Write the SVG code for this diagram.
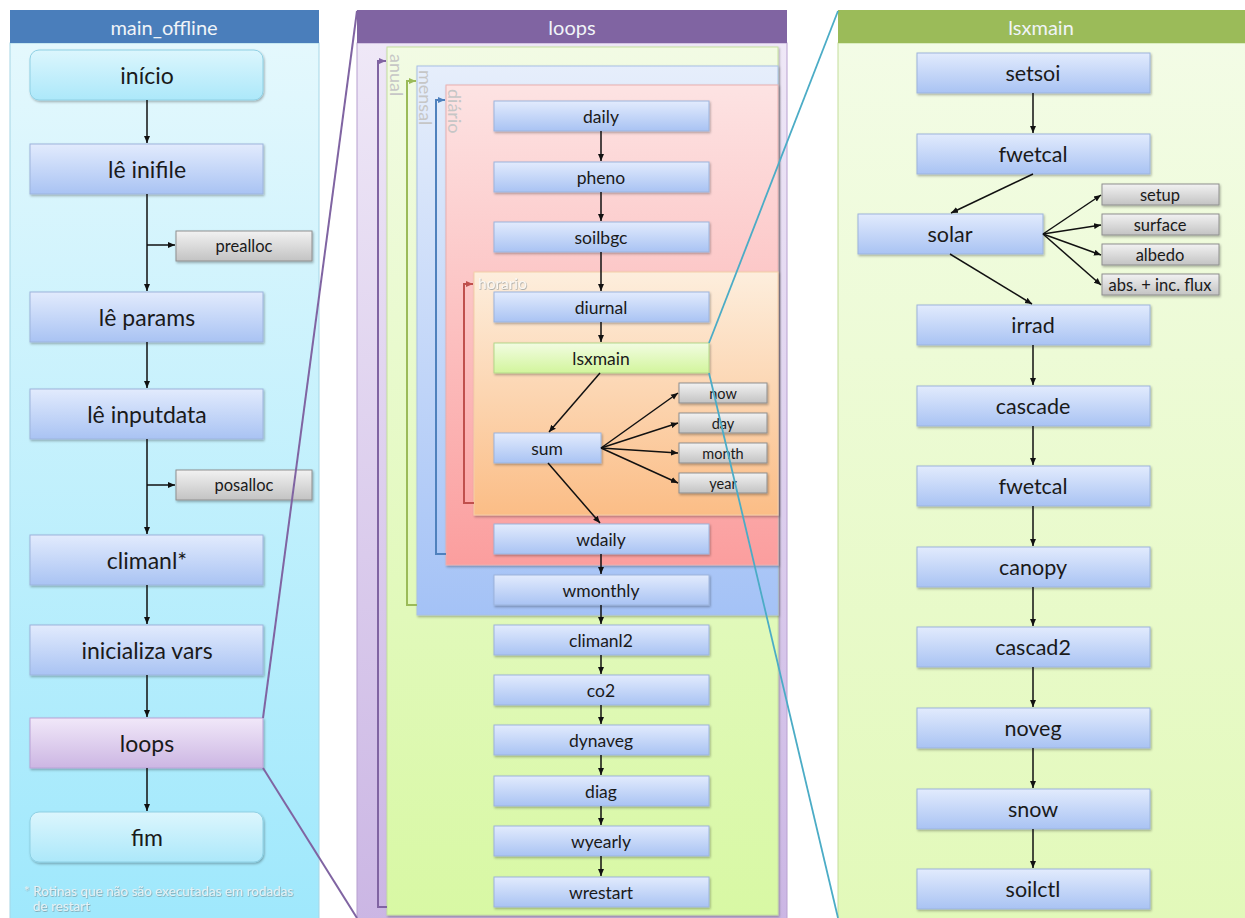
<svg xmlns="http://www.w3.org/2000/svg" width="1245" height="918" viewBox="0 0 1245 918">
<defs>
<linearGradient id="gLeftBody" x1="0" y1="0" x2="0" y2="1"><stop offset="0" stop-color="#e4f8fd"/><stop offset="1" stop-color="#9fe8fc"/></linearGradient>
<linearGradient id="gMidBody" x1="0" y1="0" x2="0" y2="1"><stop offset="0" stop-color="#efe8f7"/><stop offset="1" stop-color="#cbb6e4"/></linearGradient>
<linearGradient id="gRightBody" x1="0" y1="0" x2="0" y2="1"><stop offset="0" stop-color="#f3fce6"/><stop offset="1" stop-color="#e2f9b9"/></linearGradient>
<linearGradient id="gAnual" x1="0" y1="0" x2="0" y2="1"><stop offset="0" stop-color="#f2fbe4"/><stop offset="1" stop-color="#d8f8a4"/></linearGradient>
<linearGradient id="gMensal" x1="0" y1="0" x2="0" y2="1"><stop offset="0" stop-color="#e6eefb"/><stop offset="1" stop-color="#a4c2f6"/></linearGradient>
<linearGradient id="gDiario" x1="0" y1="0" x2="0" y2="1"><stop offset="0" stop-color="#fde3e3"/><stop offset="1" stop-color="#fb9e9e"/></linearGradient>
<linearGradient id="gHorario" x1="0" y1="0" x2="0" y2="1"><stop offset="0" stop-color="#fdeedd"/><stop offset="1" stop-color="#fbbd86"/></linearGradient>
<linearGradient id="gBlue" x1="0" y1="0" x2="0" y2="1"><stop offset="0" stop-color="#e2ebfd"/><stop offset="1" stop-color="#a9c3f3"/></linearGradient>
<linearGradient id="gCyan" x1="0" y1="0" x2="0" y2="1"><stop offset="0" stop-color="#dcf6fd"/><stop offset="1" stop-color="#ace8fa"/></linearGradient>
<linearGradient id="gGray" x1="0" y1="0" x2="0" y2="1"><stop offset="0" stop-color="#f2f2f2"/><stop offset="1" stop-color="#c3c3c3"/></linearGradient>
<linearGradient id="gGreen" x1="0" y1="0" x2="0" y2="1"><stop offset="0" stop-color="#f2fce2"/><stop offset="1" stop-color="#d2f59c"/></linearGradient>
<linearGradient id="gPurple" x1="0" y1="0" x2="0" y2="1"><stop offset="0" stop-color="#f1e8f9"/><stop offset="1" stop-color="#ccb6e3"/></linearGradient>
<filter id="sh" x="-10%" y="-20%" width="120%" height="150%"><feDropShadow dx="1" dy="1.5" stdDeviation="1" flood-color="#000" flood-opacity="0.3"/></filter>
<filter id="tsh" x="-5%" y="-30%" width="110%" height="160%"><feDropShadow dx="0.6" dy="0.8" stdDeviation="0.5" flood-color="#6f7f86" flood-opacity="0.7"/></filter>
<marker id="ah" markerUnits="userSpaceOnUse" markerWidth="8" markerHeight="8" refX="7" refY="4" orient="auto"><path d="M0,1 L7,4 L0,7 z" fill="#111"/></marker>
<marker id="ahP" markerUnits="userSpaceOnUse" markerWidth="8" markerHeight="8" refX="7" refY="4" orient="auto"><path d="M0,1 L7,4 L0,7 z" fill="#8064a2"/></marker>
<marker id="ahG" markerUnits="userSpaceOnUse" markerWidth="8" markerHeight="8" refX="7" refY="4" orient="auto"><path d="M0,1 L7,4 L0,7 z" fill="#9bbb59"/></marker>
<marker id="ahB" markerUnits="userSpaceOnUse" markerWidth="8" markerHeight="8" refX="7" refY="4" orient="auto"><path d="M0,1 L7,4 L0,7 z" fill="#4f81bd"/></marker>
<marker id="ahR" markerUnits="userSpaceOnUse" markerWidth="8" markerHeight="8" refX="7" refY="4" orient="auto"><path d="M0,1 L7,4 L0,7 z" fill="#c0504d"/></marker>
<style>
text{font-family:"Lato","Open Sans","Liberation Sans",sans-serif;}
.hdr{font-size:20px;fill:#f0f4f8;text-anchor:middle;dominant-baseline:central;}
.nb{fill:url(#gBlue);stroke:#9db4dc;stroke-width:1;filter:url(#sh);}
.nc{fill:url(#gCyan);stroke:#8fd0e4;stroke-width:1;filter:url(#sh);}
.ng{fill:url(#gGray);stroke:#8f8f8f;stroke-width:1;filter:url(#sh);}
.ngr{fill:url(#gGreen);stroke:#b4d88a;stroke-width:1;filter:url(#sh);}
.np{fill:url(#gPurple);stroke:#b9a2d6;stroke-width:1;filter:url(#sh);}
.tL{font-size:23px;fill:#1a1a1a;text-anchor:middle;dominant-baseline:central;}
.tM{font-size:17.5px;fill:#1a1a1a;text-anchor:middle;dominant-baseline:central;}
.tS{font-size:14.5px;fill:#1a1a1a;text-anchor:middle;dominant-baseline:central;}
.tR{font-size:21.5px;fill:#1a1a1a;text-anchor:middle;dominant-baseline:central;}
.tRs{font-size:16.5px;fill:#1a1a1a;text-anchor:middle;dominant-baseline:central;}
.ln{stroke:#111;stroke-width:1.5;fill:none;}
.lab{font-size:18px;fill:#c6c6c6;}
</style>
</defs>

<!-- Panels -->
<g id="panel-main_offline">
<rect x="10" y="43" width="309" height="880" fill="url(#gLeftBody)" stroke="#a6d6e6" stroke-width="1"/>
<rect x="10" y="10" width="309" height="33" fill="#4a7ebb"/>
<text class="hdr" x="164" y="27">main_offline</text>
<text x="24" y="896" font-size="13.5" fill="#e6f1f4" filter="url(#tsh)">* Rotinas que não são executadas em rodadas</text>
<text x="33" y="911" font-size="13.5" fill="#e6f1f4" filter="url(#tsh)">de restart</text>
</g>
<g id="panel-loops">
<rect x="357" y="43" width="430" height="880" fill="url(#gMidBody)" stroke="#b8a0d0" stroke-width="1"/>
<rect x="357" y="10" width="430" height="33" fill="#8064a2"/>
<text class="hdr" x="572" y="27">loops</text>
</g>
<g id="panel-lsxmain">
<rect x="838" y="43" width="410" height="880" fill="url(#gRightBody)" stroke="#c4de9c" stroke-width="1"/>
<rect x="838" y="10" width="410" height="33" fill="#9bbb59"/>
<text class="hdr" x="1041" y="27">lsxmain</text>
</g>

<!-- loop regions -->
<g id="region-anual">
<rect x="387" y="47" width="391" height="868" fill="url(#gAnual)" stroke="#c6e0a0" stroke-width="1" filter="url(#sh)"/>
<text class="lab" transform="translate(390,54) rotate(90)">anual</text>
</g>
<g id="region-mensal">
<rect x="417" y="66" width="361" height="549" fill="url(#gMensal)" stroke="#a8bfe6" stroke-width="1" filter="url(#sh)"/>
<text class="lab" transform="translate(419,70) rotate(90)">mensal</text>
</g>
<g id="region-diario">
<rect x="446" y="85" width="332" height="480" fill="url(#gDiario)" stroke="#eab0b0" stroke-width="1" filter="url(#sh)"/>
<text class="lab" transform="translate(448,89) rotate(90)" fill="#d2c6c6">diário</text>
</g>
<g id="region-horario">
<rect x="474" y="272" width="304" height="243" fill="url(#gHorario)" stroke="#f3cfa8" stroke-width="1" filter="url(#sh)"/>
<text x="478" y="289" font-size="15.5" fill="#fbf8f4" filter="url(#tsh)">horario</text>
</g>

<!-- Left nodes -->
<g id="n-inicio"><rect class="nc" x="30" y="50" width="233" height="50" rx="9"/><text class="tL" x="147" y="75">início</text></g>
<g id="n-leinifile"><rect class="nb" x="30" y="144" width="233" height="50"/><text class="tL" x="147" y="169">lê inifile</text></g>
<g id="n-prealloc"><rect class="ng" x="176" y="231" width="136" height="30"/><text class="tRs" x="244" y="246">prealloc</text></g>
<g id="n-leparams"><rect class="nb" x="30" y="292" width="233" height="50"/><text class="tL" x="147" y="317">lê params</text></g>
<g id="n-leinputdata"><rect class="nb" x="30" y="389" width="233" height="50"/><text class="tL" x="147" y="414">lê inputdata</text></g>
<g id="n-posalloc"><rect class="ng" x="176" y="470" width="136" height="30"/><text class="tRs" x="244" y="485">posalloc</text></g>
<g id="n-climanl"><rect class="nb" x="30" y="535" width="233" height="50"/><text class="tL" x="147" y="560">climanl*</text></g>
<g id="n-inicializa"><rect class="nb" x="30" y="625" width="233" height="50"/><text class="tL" x="147" y="650">inicializa vars</text></g>
<g id="n-loops"><rect class="np" x="30" y="718" width="233" height="50"/><text class="tL" x="147" y="743">loops</text></g>
<g id="n-fim"><rect class="nc" x="30" y="812" width="233" height="50" rx="9"/><text class="tL" x="147" y="837">fim</text></g>

<!-- Middle nodes -->
<g id="m-daily"><rect class="nb" x="494" y="101" width="215" height="30"/><text class="tM" x="601" y="116">daily</text></g>
<g id="m-pheno"><rect class="nb" x="494" y="162" width="215" height="30"/><text class="tM" x="601" y="177">pheno</text></g>
<g id="m-soilbgc"><rect class="nb" x="494" y="222" width="215" height="30"/><text class="tM" x="601" y="237">soilbgc</text></g>
<g id="m-diurnal"><rect class="nb" x="494" y="292" width="215" height="30"/><text class="tM" x="601" y="307">diurnal</text></g>
<g id="m-lsxmain"><rect class="ngr" x="494" y="343" width="215" height="30"/><text class="tM" x="601" y="358">lsxmain</text></g>
<g id="m-sum"><rect class="nb" x="494" y="433" width="107" height="30"/><text class="tM" x="547" y="448">sum</text></g>
<g id="m-now"><rect class="ng" x="679" y="383" width="88" height="20"/><text class="tS" x="723" y="393">now</text></g>
<g id="m-day"><rect class="ng" x="679" y="413" width="88" height="20"/><text class="tS" x="723" y="423">day</text></g>
<g id="m-month"><rect class="ng" x="679" y="443" width="88" height="20"/><text class="tS" x="723" y="453">month</text></g>
<g id="m-year"><rect class="ng" x="679" y="473" width="88" height="20"/><text class="tS" x="723" y="483">year</text></g>
<g id="m-wdaily"><rect class="nb" x="494" y="524" width="215" height="30"/><text class="tM" x="601" y="539">wdaily</text></g>
<g id="m-wmonthly"><rect class="nb" x="494" y="575" width="215" height="30"/><text class="tM" x="601" y="590">wmonthly</text></g>
<g id="m-climanl2"><rect class="nb" x="494" y="625" width="215" height="30"/><text class="tM" x="601" y="640">climanl2</text></g>
<g id="m-co2"><rect class="nb" x="494" y="675" width="215" height="30"/><text class="tM" x="601" y="690">co2</text></g>
<g id="m-dynaveg"><rect class="nb" x="494" y="725" width="215" height="30"/><text class="tM" x="601" y="740">dynaveg</text></g>
<g id="m-diag"><rect class="nb" x="494" y="776" width="215" height="30"/><text class="tM" x="601" y="791">diag</text></g>
<g id="m-wyearly"><rect class="nb" x="494" y="826" width="215" height="30"/><text class="tM" x="601" y="841">wyearly</text></g>
<g id="m-wrestart"><rect class="nb" x="494" y="877" width="215" height="30"/><text class="tM" x="601" y="892">wrestart</text></g>

<!-- Right nodes -->
<g id="r-setsoi"><rect class="nb" x="917" y="53" width="233" height="40"/><text class="tR" x="1033" y="73">setsoi</text></g>
<g id="r-fwetcal1"><rect class="nb" x="917" y="134" width="233" height="40"/><text class="tR" x="1033" y="154">fwetcal</text></g>
<g id="r-solar"><rect class="nb" x="858" y="214" width="185" height="40"/><text class="tR" x="950" y="234">solar</text></g>
<g id="r-setup"><rect class="ng" x="1102" y="184" width="117" height="21"/><text class="tRs" x="1160" y="194.5">setup</text></g>
<g id="r-surface"><rect class="ng" x="1102" y="214" width="117" height="21"/><text class="tRs" x="1160" y="224.5">surface</text></g>
<g id="r-albedo"><rect class="ng" x="1102" y="244" width="117" height="21"/><text class="tRs" x="1160" y="254.5">albedo</text></g>
<g id="r-absinc"><rect class="ng" x="1102" y="274" width="117" height="21"/><text class="tRs" x="1160" y="284.5">abs. + inc. flux</text></g>
<g id="r-irrad"><rect class="nb" x="917" y="305" width="233" height="40"/><text class="tR" x="1033" y="325">irrad</text></g>
<g id="r-cascade"><rect class="nb" x="917" y="386" width="233" height="40"/><text class="tR" x="1033" y="406">cascade</text></g>
<g id="r-fwetcal2"><rect class="nb" x="917" y="466" width="233" height="40"/><text class="tR" x="1033" y="486">fwetcal</text></g>
<g id="r-canopy"><rect class="nb" x="917" y="547" width="233" height="40"/><text class="tR" x="1033" y="567">canopy</text></g>
<g id="r-cascad2"><rect class="nb" x="917" y="627" width="233" height="40"/><text class="tR" x="1033" y="647">cascad2</text></g>
<g id="r-noveg"><rect class="nb" x="917" y="708" width="233" height="40"/><text class="tR" x="1033" y="728">noveg</text></g>
<g id="r-snow"><rect class="nb" x="917" y="789" width="233" height="40"/><text class="tR" x="1033" y="809">snow</text></g>
<g id="r-soilctl"><rect class="nb" x="917" y="869" width="233" height="40"/><text class="tR" x="1033" y="889">soilctl</text></g>

<!-- Connectors -->
<g id="connectors">
<path class="ln" d="M147,100 V143" marker-end="url(#ah)"/>
<path class="ln" d="M147,194 V291" marker-end="url(#ah)"/>
<path class="ln" d="M147,245 H175" marker-end="url(#ah)"/>
<path class="ln" d="M147,342 V388" marker-end="url(#ah)"/>
<path class="ln" d="M147,439 V534" marker-end="url(#ah)"/>
<path class="ln" d="M147,485 H175" marker-end="url(#ah)"/>
<path class="ln" d="M147,585 V624" marker-end="url(#ah)"/>
<path class="ln" d="M147,675 V717" marker-end="url(#ah)"/>
<path class="ln" d="M147,768 V811" marker-end="url(#ah)"/>
<path d="M387,907 H378 V61 H386" fill="none" stroke="#8064a2" stroke-width="2" marker-end="url(#ahP)"/>
<path d="M417,605 H407 V81 H416" fill="none" stroke="#9bbb59" stroke-width="2" marker-end="url(#ahG)"/>
<path d="M446,554 H436 V100 H445" fill="none" stroke="#4f81bd" stroke-width="2" marker-end="url(#ahB)"/>
<path d="M474,503 H464 V284 H473" fill="none" stroke="#c0504d" stroke-width="2" marker-end="url(#ahR)"/>
<path class="ln" d="M601,131 V161" marker-end="url(#ah)"/>
<path class="ln" d="M601,192 V221" marker-end="url(#ah)"/>
<path class="ln" d="M601,252 V291" marker-end="url(#ah)"/>
<path class="ln" d="M601,322 V342" marker-end="url(#ah)"/>
<path class="ln" d="M600,373 L549,432" marker-end="url(#ah)"/>
<path class="ln" d="M601,448 L678,393" marker-end="url(#ah)"/>
<path class="ln" d="M601,448 L678,423" marker-end="url(#ah)"/>
<path class="ln" d="M601,448 L678,453" marker-end="url(#ah)"/>
<path class="ln" d="M601,448 L678,483" marker-end="url(#ah)"/>
<path class="ln" d="M548,463 L600,523" marker-end="url(#ah)"/>
<path class="ln" d="M601,554 V574" marker-end="url(#ah)"/>
<path class="ln" d="M601,605 V624" marker-end="url(#ah)"/>
<path class="ln" d="M601,655 V674" marker-end="url(#ah)"/>
<path class="ln" d="M601,705 V724" marker-end="url(#ah)"/>
<path class="ln" d="M601,755 V775" marker-end="url(#ah)"/>
<path class="ln" d="M601,806 V825" marker-end="url(#ah)"/>
<path class="ln" d="M601,856 V876" marker-end="url(#ah)"/>
<path class="ln" d="M1033,93 V133" marker-end="url(#ah)"/>
<path class="ln" d="M1033,174 L951,213" marker-end="url(#ah)"/>
<path class="ln" d="M1043,234 L1101,195" marker-end="url(#ah)"/>
<path class="ln" d="M1043,234 L1101,225" marker-end="url(#ah)"/>
<path class="ln" d="M1043,234 L1101,255" marker-end="url(#ah)"/>
<path class="ln" d="M1043,234 L1101,285" marker-end="url(#ah)"/>
<path class="ln" d="M950,254 L1032,304" marker-end="url(#ah)"/>
<path class="ln" d="M1033,345 V385" marker-end="url(#ah)"/>
<path class="ln" d="M1033,426 V465" marker-end="url(#ah)"/>
<path class="ln" d="M1033,506 V546" marker-end="url(#ah)"/>
<path class="ln" d="M1033,587 V626" marker-end="url(#ah)"/>
<path class="ln" d="M1033,667 V707" marker-end="url(#ah)"/>
<path class="ln" d="M1033,748 V788" marker-end="url(#ah)"/>
<path class="ln" d="M1033,829 V868" marker-end="url(#ah)"/>
<path d="M263,718 L357,11" fill="none" stroke="#8064a2" stroke-width="2"/>
<path d="M263,768 L357,918" fill="none" stroke="#8064a2" stroke-width="2"/>
<path d="M709,343 L838,11" fill="none" stroke="#4bacc6" stroke-width="1.8"/>
<path d="M709,373 L838,918" fill="none" stroke="#4bacc6" stroke-width="1.8"/>
</g>
</svg>
